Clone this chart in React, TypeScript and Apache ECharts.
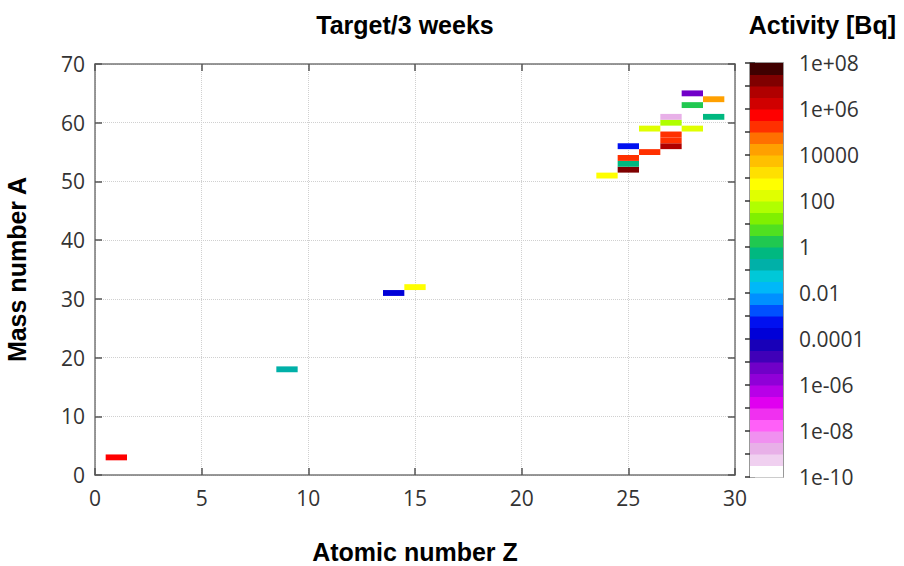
import React, { useEffect, useRef } from "react";
import * as echarts from "echarts";

// Nuclides: atomic number Z, mass number A, log10(activity [Bq])
const nuclideZ = [1, 9, 14, 15, 24, 25, 25, 25, 25, 26, 26, 27, 27, 27, 27, 27, 28, 28, 28, 29, 29];
const nuclideA = [3, 18, 31, 32, 51, 52, 53, 54, 56, 55, 59, 56, 57, 58, 60, 61, 59, 63, 65, 64, 61];
const logActivity = [5.8, -0.8, -3.8, 2.7, 2.8, 7.2, -0.4, 5.3, -3.3, 5.4, 2.2, 6.8, 5.3, 5.4, 1.6, -8.7, 2.1, 0.3, -5.3, 4.3, -0.2];

// Colour bar: half-decade bands from 1e-10 up to 1e+08
const bandLow = -10;
const bandStep = 0.5;
const bandColors = [
  "#ffffff", "#f0d0f0", "#e8b0e8", "#f090f0", "#ff60f8", "#f030f0", "#e000f0", "#b800e8",
  "#9000d8", "#7000c8", "#4000b8", "#1800b8", "#0000d8", "#0010f0", "#0050ff", "#0090ff",
  "#00b8f8", "#00c8d8", "#00b0a8", "#00b880", "#20c850", "#50e020", "#80f000", "#b0ff00",
  "#e0ff00", "#ffff00", "#ffe000", "#ffc000", "#ffa000", "#ff7000", "#ff3000", "#ff0000",
  "#d00000", "#b00000", "#800000", "#400000",
];
const colorbarTicks = [-10, -8, -6, -4, -2, 0, 2, 4, 6, 8];
const colorbarLabels = ["1e-10", "1e-08", "1e-06", "0.0001", "0.01", "1", "100", "10000", "1e+06", "1e+08"];

const xTicksMin = 0, xTicksMax = 30, xTickStep = 5;
const yTicksMin = 0, yTicksMax = 70, yTickStep = 10;

function colorFor(v: number): string {
  let i = Math.floor((v - bandLow) / bandStep);
  if (i < 0) i = 0;
  if (i >= bandColors.length) i = bandColors.length - 1;
  return bandColors[i];
}

const FONT = "'Open Sans', 'DejaVu Sans', sans-serif";
const BOLD = "'Liberation Sans', Arial, sans-serif";

export default function App() {
  const ref = useRef<HTMLDivElement>(null);
  useEffect(() => {
    if (!ref.current) return;
    const chart = echarts.init(ref.current, undefined, { renderer: "svg" });
    const cells = nuclideZ.map((z, i) => [z, nuclideA[i], logActivity[i]]);
    const bands = bandColors.map((c, i) => [bandLow + i * bandStep, bandLow + (i + 1) * bandStep, i]);
    const axisLineStyle = { color: "#777", width: 1.5 };
    const tickStyle = { color: "#555", width: 1.5 };
    const nameStyle = { fontFamily: BOLD, fontSize: 25, fontWeight: "bold", color: "#000" };
    const option: any = {
      animation: false,
      backgroundColor: "#ffffff",
      title: [
        { text: "Target/3 weeks", left: 400, top: 7, textAlign: "center", textStyle: nameStyle },
        { text: "Activity [Bq]", right: 3, top: 7, textStyle: nameStyle },
      ],
      grid: [
        { left: 95, right: 169, top: 64, bottom: 91, outerBoundsMode: "none", containLabel: false },
        { left: 750, width: 33, top: 63, bottom: 89, outerBoundsMode: "none", containLabel: false,
          show: true, borderColor: "#777", borderWidth: 1.5, backgroundColor: "transparent" },
      ],
      xAxis: [
        {
          gridIndex: 0, type: "value", min: xTicksMin, max: xTicksMax, interval: xTickStep, position: "bottom",
          name: "Atomic number Z", nameLocation: "middle", nameGap: 64, nameTextStyle: nameStyle,
          axisLine: { show: true, onZero: false, lineStyle: axisLineStyle },
          axisTick: { show: true, inside: true, length: 7, lineStyle: tickStyle },
          axisLabel: { fontFamily: FONT, fontSize: 21, color: "#333", margin: 12 },
          splitLine: { show: true, lineStyle: { color: "#d0d0d0", type: "dotted", width: 1 } },
        },
        {
          gridIndex: 0, type: "value", min: xTicksMin, max: xTicksMax, interval: xTickStep, position: "top",
          axisLine: { show: true, onZero: false, lineStyle: axisLineStyle },
          axisTick: { show: true, inside: true, length: 7, lineStyle: tickStyle },
          axisLabel: { show: false }, splitLine: { show: false },
        },
        {
          gridIndex: 1, type: "value", min: 0, max: 1, show: false,
        },
      ],
      yAxis: [
        {
          gridIndex: 0, type: "value", min: yTicksMin, max: yTicksMax, interval: yTickStep, position: "left",
          name: "Mass number A", nameLocation: "middle", nameGap: 66, nameRotate: 90, nameTextStyle: nameStyle,
          axisLine: { show: true, onZero: false, lineStyle: axisLineStyle },
          axisTick: { show: true, inside: true, length: 7, lineStyle: tickStyle },
          axisLabel: { fontFamily: FONT, fontSize: 21, color: "#333", margin: 10 },
          splitLine: { show: true, lineStyle: { color: "#d0d0d0", type: "dotted", width: 1 } },
        },
        {
          gridIndex: 0, type: "value", min: yTicksMin, max: yTicksMax, interval: yTickStep, position: "right",
          axisLine: { show: true, onZero: false, lineStyle: axisLineStyle },
          axisTick: { show: true, inside: true, length: 7, lineStyle: tickStyle },
          axisLabel: { show: false }, splitLine: { show: false },
        },
        {
          gridIndex: 1, type: "value", min: -10, max: 8, interval: 1, position: "right",
          axisLine: { show: false },
          axisTick: { show: true, inside: true, length: 5, lineStyle: { color: "#333", width: 1.5 } },
          axisLabel: {
            fontFamily: FONT, fontSize: 21, color: "#333", margin: 16,
            formatter: (v: number) => {
              const k = colorbarTicks.indexOf(Math.round(v));
              return k >= 0 ? colorbarLabels[k] : "";
            },
          },
          splitLine: { show: false },
        },
        {
          gridIndex: 1, type: "value", min: -10, max: 8, interval: 1, position: "left",
          axisLine: { show: false },
          axisTick: { show: true, inside: true, length: 5, lineStyle: { color: "#333", width: 1.5 } },
          axisLabel: { show: false }, splitLine: { show: false },
        },
      ],
      series: [
        {
          type: "custom", xAxisIndex: 0, yAxisIndex: 0, data: cells, clip: true,
          renderItem: (params: any, api: any) => {
            const z = api.value(0), a = api.value(1), v = api.value(2);
            const p0 = api.coord([z - 0.5, a + 0.5]);
            const p1 = api.coord([z + 0.5, a - 0.5]);
            return {
              type: "rect",
              shape: { x: p0[0], y: p0[1], width: p1[0] - p0[0], height: p1[1] - p0[1] },
              style: { fill: colorFor(v) },
            };
          },
        },
        {
          type: "custom", xAxisIndex: 2, yAxisIndex: 2, data: bands, z: 1,
          renderItem: (params: any, api: any) => {
            const lo = api.value(0), hi = api.value(1), idx = api.value(2);
            const p0 = api.coord([0, hi]);
            const p1 = api.coord([1, lo]);
            return {
              type: "rect",
              shape: { x: p0[0], y: p0[1], width: p1[0] - p0[0], height: p1[1] - p0[1] + 0.5 },
              style: { fill: bandColors[idx] },
            };
          },
        },
      ],
    };
    chart.setOption(option);
    return () => chart.dispose();
  }, []);
  return (
    <div
      ref={ref}
      style={{ position: "absolute", left: 0, top: 0, width: 904, height: 566 }}
    />
  );
}
